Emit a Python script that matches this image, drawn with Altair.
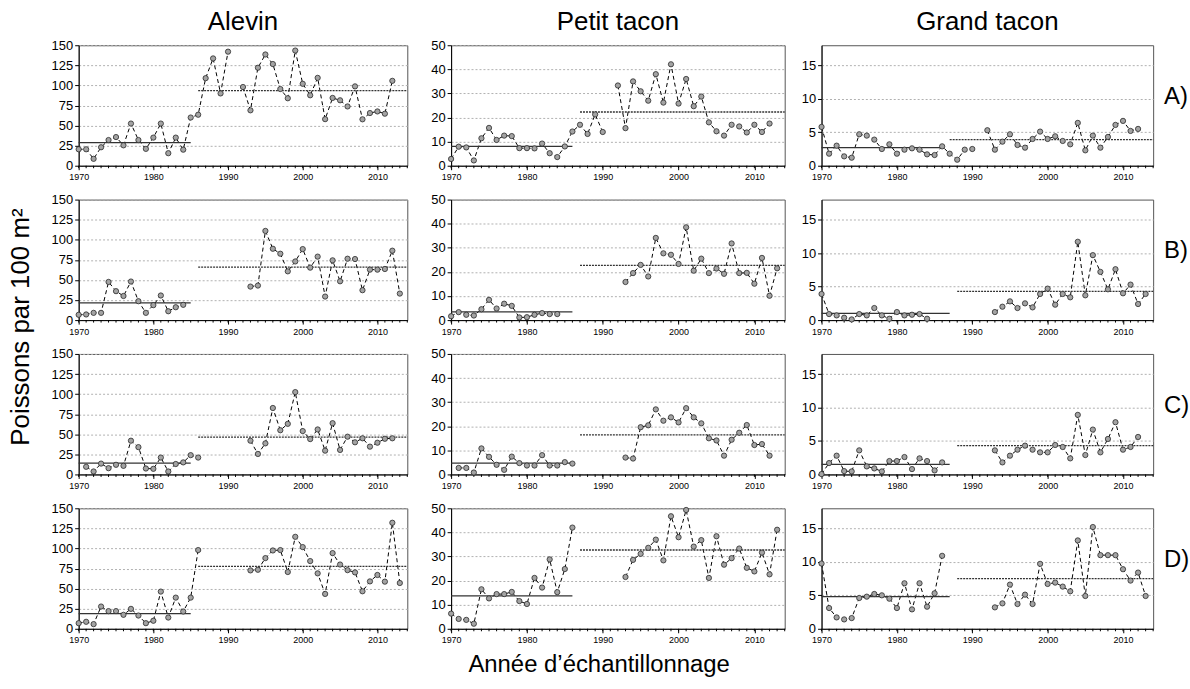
import altair as alt
import pandas as pd

FONT = "Liberation Sans"

species = ["Alevin", "Petit tacon", "Grand tacon"]
rows = ["A)", "B)", "C)", "D)"]

# ---- Alevin ----
alevin_A1_start, alevin_A1 = 1970, [20.5, 20.5, 8.6, 23, 32, 35.7, 25.4, 52.5, 32, 21, 35, 52.5, 15.6, 35, 20, 60, 63.5, 109, 133.6, 90, 142]
alevin_A2_start, alevin_A2 = 1992, [98, 69, 122, 138.5, 126.6, 95.5, 84, 143.4, 102, 87.7, 109.4, 58, 84.4, 81.5, 73.8, 98.8, 57.8, 65.6, 67.6, 64.8, 105.7]
alevin_B1_start, alevin_B1 = 1970, [6.6, 7, 9, 9, 47.5, 36, 30, 48, 23.5, 9, 18.6, 30.6, 11, 16, 19]
alevin_B2_start, alevin_B2 = 1993, [41.7, 43, 111, 88.8, 82.6, 60.7, 73, 88.4, 65.3, 79, 29.3, 74.4, 48.3, 76.4, 76, 37.2, 62.8, 62.8, 63.6, 86.4, 33]
alevin_C1_start, alevin_C1 = 1971, [9.5, 3.7, 13.5, 7.8, 12, 10.7, 42, 34, 7.4, 7, 21, 3.7, 13, 15, 24, 21]
alevin_C2_start, alevin_C2 = 1993, [42, 25.5, 38.7, 82.7, 55, 63, 102.5, 54, 44, 56, 29.6, 63.8, 30.5, 47, 40, 45, 34.6, 39.5, 44.4, 45]
alevin_D1_start, alevin_D1 = 1970, [7, 8.7, 5.8, 27.7, 22, 22, 17.4, 24.8, 16.5, 7, 10, 46.3, 14, 38.8, 21.5, 38.8, 98]
alevin_D2_start, alevin_D2 = 1993, [72.7, 73.5, 88, 97.5, 98, 70.7, 114.5, 101.7, 84.3, 69, 43.4, 94.2, 80, 73, 70.2, 46.7, 59, 67, 58.7, 132, 57]

# ---- Petit tacon ----
petit_A1_start, petit_A1 = 1970, [2.8, 7.9, 7.6, 2.2, 11.4, 15.7, 10.7, 12.5, 12.3, 7.3, 7.3, 7.2, 9.2, 5.2, 3.6, 8, 14.2, 17, 13.2, 21.3, 14]
petit_A2_start, petit_A2 = 1992, [33.3, 15.6, 35, 30.9, 27, 38, 26.2, 42.1, 25.8, 36, 24.7, 28.7, 18, 14.3, 12.5, 17, 16.3, 13.8, 17, 14, 17.5]
petit_B1_start, petit_B1 = 1970, [1.6, 3.3, 2.2, 1.9, 4.5, 8.4, 4.8, 6.8, 5.9, 1.1, 1.2, 2.2, 2.9, 2.5, 2.5]
petit_B2_start, petit_B2 = 1993, [15.8, 19.5, 22.9, 18.1, 34.1, 27.7, 27.1, 23.3, 38.5, 20.5, 25.5, 19.5, 21.4, 19.2, 31.8, 19.5, 19.6, 15.1, 25.8, 10.1, 21.5]
petit_C1_start, petit_C1 = 1971, [2.7, 2.7, 0.8, 10.8, 7.3, 4, 1.9, 7.4, 4.7, 3.7, 3.7, 8, 3.7, 3.7, 5.1, 4.5]
petit_C2_start, petit_C2 = 1993, [7, 6.6, 19.6, 20.4, 27, 22.3, 23.7, 21.6, 27.5, 23.7, 21.2, 15, 14.1, 7.8, 14.4, 17.3, 20.5, 12.2, 12.6, 7.8]
petit_D1_start, petit_D1 = 1970, [6.3, 4.1, 3.7, 2.1, 16.4, 12.6, 14.4, 14.4, 15.3, 11.5, 10.3, 21.1, 17.1, 28.8, 15.2, 24.8, 42]
petit_D2_start, petit_D2 = 1993, [21.5, 28.6, 31.1, 33.6, 37, 28.4, 46.7, 38, 49.3, 34.1, 36.8, 21.1, 38.4, 26.6, 29.3, 33.3, 25.3, 23.8, 31.6, 22.6, 41.1]

# ---- Grand tacon ----
grand_A1_start, grand_A1 = 1970, [5.8, 1.8, 3.0, 1.4, 1.2, 4.7, 4.5, 3.9, 2.5, 3.2, 1.8, 2.4, 2.6, 2.4, 1.7, 1.6, 2.9, 1.8, 0.9, 2.4, 2.5]
grand_A2_start, grand_A2 = 1992, [5.3, 2.4, 3.6, 4.7, 3.1, 2.7, 4.0, 5.1, 4.0, 4.4, 3.7, 3.2, 6.4, 2.3, 4.5, 2.7, 4.3, 6.1, 6.7, 5.2, 5.5]
grand_B1_start, grand_B1 = 1970, [3.9, 0.9, 0.7, 0.35, 0.1, 0.9, 0.7, 1.8, 0.7, 0.2, 1.2, 0.7, 0.8, 0.9, 0.2]
grand_B2_start, grand_B2 = 1993, [1.2, 2.0, 2.8, 1.8, 2.5, 1.9, 3.9, 4.7, 2.3, 3.9, 3.4, 11.7, 3.7, 9.7, 7.2, 4.6, 7.6, 4.0, 5.3, 2.4, 3.9]
grand_C1_start, grand_C1 = 1970, [0.05, 1.7, 2.8, 0.5, 0.45, 3.6, 1.2, 0.9, 0.45, 2.0, 2.0, 2.6, 0.8, 2.4, 2.0, 0.6, 1.8]
grand_C2_start, grand_C2 = 1993, [3.6, 1.8, 2.8, 3.7, 4.3, 3.7, 3.3, 3.3, 4.4, 4.1, 2.4, 8.9, 2.9, 6.7, 3.3, 5.3, 7.8, 3.7, 4.1, 5.6]
grand_D1_start, grand_D1 = 1970, [9.75, 3.1, 1.7, 1.4, 1.6, 4.6, 4.8, 5.2, 5.0, 4.5, 3.1, 6.8, 2.9, 6.8, 3.3, 5.3, 10.9]
grand_D2_start, grand_D2 = 1993, [3.2, 3.8, 6.6, 3.7, 5.1, 3.7, 9.7, 6.7, 6.9, 6.3, 5.6, 13.2, 4.9, 15.2, 11.0, 11.0, 11.0, 8.9, 7.2, 8.4, 4.9]

# period means: (early mean, late mean)
alevin_means = [(28.7, 93.4), (21.5, 66), (14, 46.5), (19, 77.7)]
petit_means = [(8, 22.3), (3.4, 22.7), (4.7, 16.4), (13.7, 32.7)]
grand_means = [(2.7, 3.9), (1.0, 4.3), (1.5, 4.3), (4.8, 7.5)]
# year spans of the mean lines: (early start, early end, late start, late end)
alevin_spans = [(1970, 1985, 1986, 2014)] * 4
petit_spans = [(1970, 1986, 1987, 2014)] * 4
grand_spans = [(1970, 1986, 1987, 2014), (1970, 1987, 1988, 2014), (1970, 1987, 1988, 2014), (1970, 1987, 1988, 2014)]

series = {
    "Alevin": [(alevin_A1_start, alevin_A1, alevin_A2_start, alevin_A2),
               (alevin_B1_start, alevin_B1, alevin_B2_start, alevin_B2),
               (alevin_C1_start, alevin_C1, alevin_C2_start, alevin_C2),
               (alevin_D1_start, alevin_D1, alevin_D2_start, alevin_D2)],
    "Petit tacon": [(petit_A1_start, petit_A1, petit_A2_start, petit_A2),
                    (petit_B1_start, petit_B1, petit_B2_start, petit_B2),
                    (petit_C1_start, petit_C1, petit_C2_start, petit_C2),
                    (petit_D1_start, petit_D1, petit_D2_start, petit_D2)],
    "Grand tacon": [(grand_A1_start, grand_A1, grand_A2_start, grand_A2),
                    (grand_B1_start, grand_B1, grand_B2_start, grand_B2),
                    (grand_C1_start, grand_C1, grand_C2_start, grand_C2),
                    (grand_D1_start, grand_D1, grand_D2_start, grand_D2)],
}
means = {"Alevin": alevin_means, "Petit tacon": petit_means, "Grand tacon": grand_means}
spans = {"Alevin": alevin_spans, "Petit tacon": petit_spans, "Grand tacon": grand_spans}

y_domains = {"Alevin": [0, 150], "Petit tacon": [0, 50], "Grand tacon": [0, 18]}
y_ticks = {"Alevin": [0, 25, 50, 75, 100, 125, 150], "Petit tacon": [0, 10, 20, 30, 40, 50], "Grand tacon": [0, 5, 10, 15]}
x_label_years = [1970, 1980, 1990, 2000, 2010]
minor_tick_years = list(range(1970, 2015))
y_extent = {"Alevin": 30, "Petit tacon": 27, "Grand tacon": 19}
widths = {"Alevin": 330, "Petit tacon": 335, "Grand tacon": 333}
H = 121


def panel(sp, ri):
    s1, v1, s2, v2 = series[sp][ri]
    recs = [{"year": s1 + i, "value": v, "seg": 0} for i, v in enumerate(v1)]
    recs += [{"year": s2 + i, "value": v, "seg": 1} for i, v in enumerate(v2)]
    df = pd.DataFrame(recs)
    m1, m2 = means[sp][ri]
    a0, a1, b0, b1 = spans[sp][ri]
    mdf = pd.DataFrame([
        {"x": a0, "x2": a1, "y": m1, "k": "early"},
        {"x": b0, "x2": b1, "y": m2, "k": "late"},
    ])
    xs = alt.Scale(domain=[1970, 2014], nice=False, zero=False)
    ys = alt.Scale(domain=y_domains[sp], nice=False)
    xaxis = alt.Axis(values=x_label_years, format="d", title=None, grid=False,
                     tickSize=4, labelFontSize=9, labelPadding=3,
                     labelOverlap=False, labelBound=False, labelFlush=False,
                     domainColor="black", tickColor="black")
    yaxis = alt.Axis(values=y_ticks[sp], title=None, grid=True, gridDash=[2, 2],
                     gridColor="#b0b0b0", tickSize=4, labelFontSize=13,
                     labelOverlap=False, domainColor="black", tickColor="black",
                     labelPadding=2, minExtent=y_extent[sp], maxExtent=y_extent[sp])

    def X(f):
        return alt.X(f, scale=xs, axis=xaxis, title=None)

    def Y(f):
        return alt.Y(f, scale=ys, axis=yaxis, title=None)

    base = alt.Chart(df)
    line = base.mark_line(strokeDash=[4, 3], color="black", strokeWidth=1).encode(
        x=X("year:Q"), y=Y("value:Q"), detail="seg:N")
    pts = base.mark_circle(size=28, color="#a3a3a3", stroke="#2a2a2a", strokeWidth=0.8, opacity=1).encode(
        x=X("year:Q"), y=Y("value:Q"))
    early = alt.Chart(mdf).transform_filter(alt.datum.k == "early").mark_rule(
        color="#333333", strokeWidth=1.3).encode(x=X("x:Q"), x2="x2:Q", y=Y("y:Q"))
    late = alt.Chart(mdf).transform_filter(alt.datum.k == "late").mark_rule(
        color="#333333", strokeWidth=1.3, strokeDash=[2, 1]).encode(x=X("x:Q"), x2="x2:Q", y=Y("y:Q"))
    minor = alt.Chart(pd.DataFrame({"yr": minor_tick_years})).mark_rule(
        color="black", strokeWidth=1).encode(
        x=X("yr:Q"), y=alt.value(H), y2=alt.value(H + 2.5))
    layers = [line, minor, early, late, pts]
    if sp == "Grand tacon":
        lab = alt.Chart(pd.DataFrame({"t": [rows[ri]]})).mark_text(
            align="left", baseline="middle", fontSize=24, font=FONT, color="black").encode(
            text="t:N", x=alt.value(widths[sp] + 11), y=alt.value(52))
        layers.append(lab)
    if ri == 0:
        ttl = alt.Chart(pd.DataFrame({"t": [sp]})).mark_text(
            align="center", baseline="alphabetic", fontSize=26, font=FONT, color="black").encode(
            text="t:N", x=alt.value(widths[sp] / 2), y=alt.value(-15))
        layers.append(ttl)
    return alt.layer(*layers).properties(width=widths[sp], height=H)


grid_rows = [alt.hconcat(*[panel(sp, ri) for sp in species], spacing=14) for ri in range(4)]
grid = alt.vconcat(*grid_rows, spacing=10).properties(
    title=alt.TitleParams("Poissons par 100 m²", orient="left", anchor="middle",
                          fontSize=26, fontWeight="normal", font=FONT, offset=14))

chart = alt.vconcat(grid).properties(
    title=alt.TitleParams("Année d’échantillonnage", orient="bottom", anchor="middle",
                          fontSize=24, fontWeight="normal", font=FONT, offset=8),
    padding={"left": 8, "top": 7, "right": 0, "bottom": 2},
).configure_view(stroke="#555555", strokeWidth=1).configure_axis(
    labelFont=FONT, titleFont=FONT, labelColor="black"
).configure_title(color="black")

chart.save("out.html", embed_options={"renderer": "svg", "actions": False})
